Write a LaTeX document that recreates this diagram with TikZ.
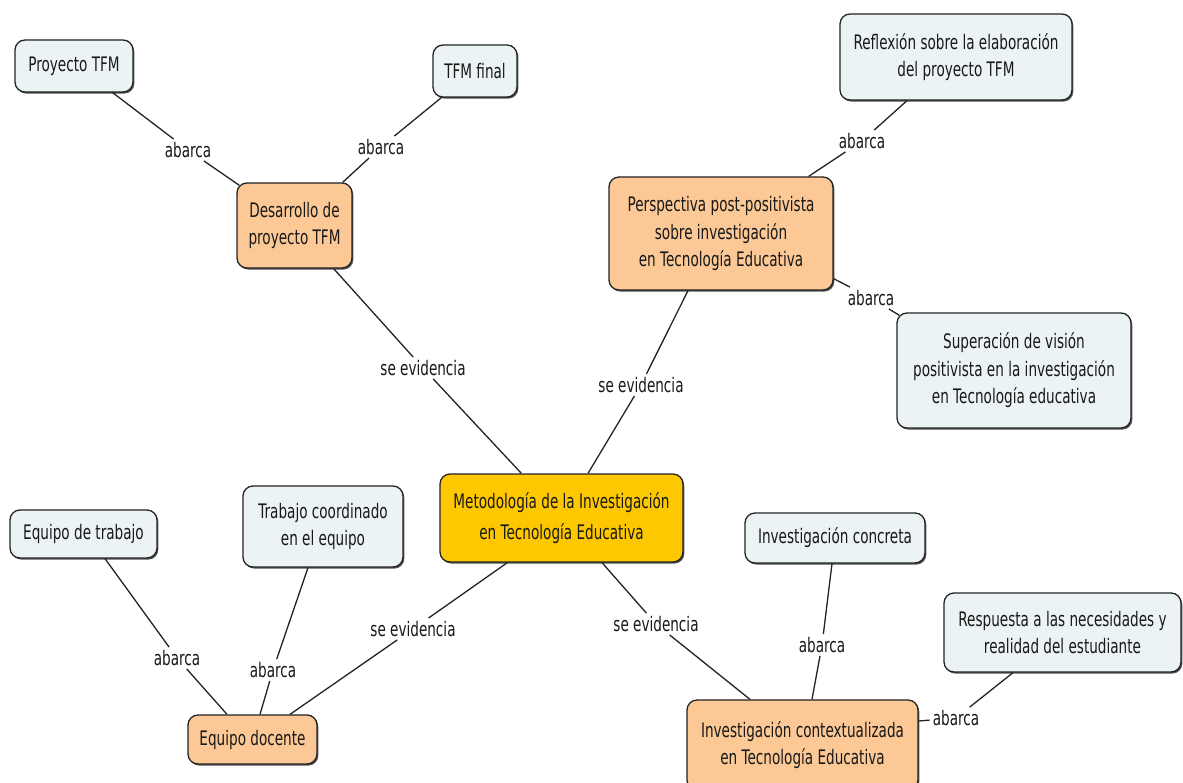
\documentclass[tikz,border=0pt]{standalone}
\usepackage{fontspec}
\setmainfont{DejaVu Sans}[FakeStretch=0.68]
\usetikzlibrary{shadows}
\definecolor{conceptblue}{RGB}{236,243,245}
\definecolor{conceptorange}{RGB}{251,200,150}
\definecolor{conceptyellow}{RGB}{254,200,0}
\definecolor{inkline}{RGB}{35,35,35}

\begin{document}
\begin{tikzpicture}[x=1pt,y=-1pt,
  concept/.style={draw=inkline, line width=1.3pt, rounded corners=10pt,
    align=center, inner sep=2pt, text=black!90,
    font=\fontsize{20}{27.5}\selectfont,
    drop shadow={shadow xshift=1.3pt, shadow yshift=-1.6pt, fill=black!75, opacity=0.9}},
  leaf/.style={concept, fill=conceptblue},
  branch/.style={concept, fill=conceptorange},
  root/.style={concept, fill=conceptyellow},
  linkword/.style={inner sep=3pt, font=\fontsize{20}{24}\selectfont, text=black!90},
  link/.style={draw=inkline, line width=1.3pt}
]
\fill[white] (0,0) rectangle (1183,783);
\useasboundingbox (0,0) rectangle (1183,783);

% concepts
\node[root, minimum width=243pt, minimum height=88pt,
      font=\fontsize{20}{31}\selectfont] (met) at (561.5,518)
  {Metodología de la Investigación\\en Tecnología Educativa};

\node[branch, minimum width=115pt, minimum height=85pt] (des) at (294.5,225.5)
  {Desarrollo de\\proyecto TFM};
\node[branch, minimum width=224pt, minimum height=113pt] (persp) at (721,233.5)
  {Perspectiva post-positivista\\sobre investigación\\en Tecnología Educativa};
\node[branch, minimum width=129pt, minimum height=49pt] (eqd) at (252.5,739.5)
  {Equipo docente};
\node[branch, minimum width=231pt, minimum height=90pt] (ictx) at (802.5,745)
  {Investigación contextualizada\\en Tecnología Educativa};

\node[leaf, minimum width=118pt, minimum height=52pt] (ptfm) at (74,66)
  {Proyecto TFM};
\node[leaf, minimum width=84pt, minimum height=52pt] (tfmf) at (475,71)
  {TFM final};
\node[leaf, minimum width=232pt, minimum height=86pt] (refl) at (956,57)
  {Reflexión sobre la elaboración\\del proyecto TFM};
\node[leaf, minimum width=234pt, minimum height=115pt] (sup) at (1014,370.5)
  {Superación de visión\\positivista en la investigación\\en Tecnología educativa};
\node[leaf, minimum width=147pt, minimum height=48pt] (eqt) at (83.5,534)
  {Equipo de trabajo};
\node[leaf, minimum width=160pt, minimum height=81pt] (trab) at (323,526.5)
  {Trabajo coordinado\\en el equipo};
\node[leaf, minimum width=180pt, minimum height=50pt] (invc) at (835,538)
  {Investigación concreta};
\node[leaf, minimum width=237pt, minimum height=79pt] (resp) at (1062.5,632.5)
  {Respuesta a las necesidades y\\realidad del estudiante};

% linking words
\node[linkword] (l1) at (188,150) {abarca};
\node[linkword] (l2) at (381,147) {abarca};
\node[linkword] (l3) at (423,368) {se evidencia};
\node[linkword] (l4) at (641,385) {se evidencia};
\node[linkword] (l5) at (862,141) {abarca};
\node[linkword] (l6) at (871,298) {abarca};
\node[linkword] (l7) at (177,658) {abarca};
\node[linkword] (l8) at (273,670) {abarca};
\node[linkword] (l9) at (413,629) {se evidencia};
\node[linkword] (l10) at (656,624) {se evidencia};
\node[linkword] (l11) at (822,645) {abarca};
\node[linkword] (l12) at (956,718) {abarca};

% connectors
\draw[link] ([xshift=-21pt]ptfm.south east) -- (l1) -- ([xshift=3pt,yshift=-3pt]des.north west);
\draw[link] ([xshift=9pt]tfmf.south west) -- (l2) -- ([xshift=-10pt]des.north east);
\draw[link] ([xshift=-19pt]des.south east) -- (l3) -- ([xshift=82pt]met.north west);
\draw[link] ([xshift=-33pt]persp.south) -- (l4) -- ([xshift=26.5pt]met.north);
\draw[link] ([xshift=-49pt]refl.south) -- (l5) -- ([xshift=-25pt]persp.north east);
\draw[link] ([yshift=12pt]persp.south east) -- (l6) -- ([xshift=3pt,yshift=-3pt]sup.north west);
\draw[link] ([xshift=21.5pt]eqt.south) -- (l7) -- ([xshift=-25.5pt]eqd.north);
\draw[link] ([xshift=-15pt]trab.south) -- (l8) -- ([xshift=7.5pt]eqd.north);
\draw[link] ([xshift=68pt]met.south west) -- (l9) -- ([xshift=37.5pt]eqd.north);
\draw[link] ([xshift=40.5pt]met.south) -- (l10) -- ([xshift=-52.5pt]ictx.north);
\draw[link] ([xshift=-3pt]invc.south) -- (l11) -- ([xshift=9.5pt]ictx.north);
\draw[link] ([xshift=-49.5pt]resp.south) -- (l12) -- ([yshift=24pt]ictx.east);
\end{tikzpicture}
\end{document}
